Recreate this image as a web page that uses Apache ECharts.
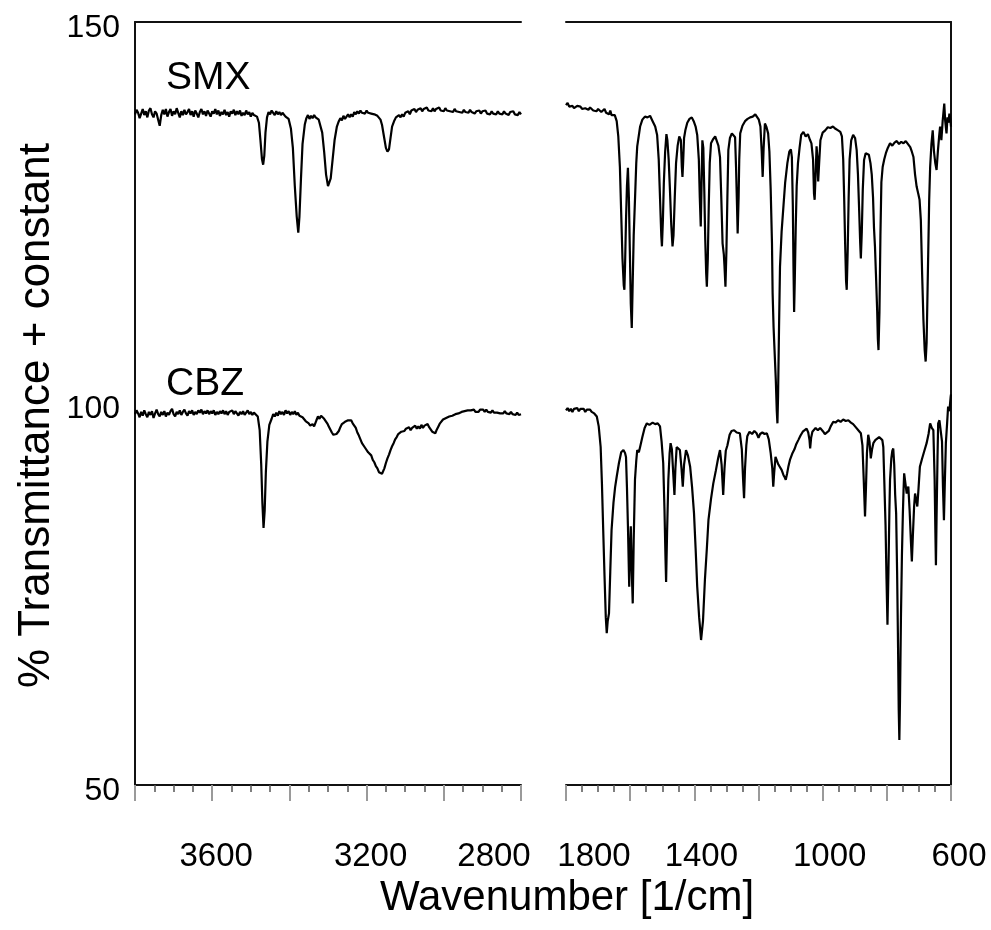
<!DOCTYPE html>
<html><head><meta charset="utf-8">
<script src="https://cdn.jsdelivr.net/npm/echarts@6/dist/echarts.min.js"></script>
<style>html,body{margin:0;padding:0;background:#fff}#c{width:991px;height:930px}</style>
</head><body><div id="c"></div>
<script>
// ---- data (wavenumber [1/cm], % transmittance + constant) ----
const smxHigh = [[3800,137.9],[3796,138.5],[3792,138.1],[3788,137.4],[3784,138.0],[3780,138.6],[3776,137.8],[3772,138.3],[3768,137.5],[3764,138.4],[3760,138.7],[3756,137.9],[3752,137.5],[3748,138.3],[3744,138.0],[3740,137.2],[3736,136.4],[3732,137.8],[3728,138.5],[3724,137.9],[3720,138.6],[3716,137.6],[3712,138.2],[3708,138.6],[3704,137.7],[3700,138.3],[3696,137.9],[3692,138.7],[3688,138.1],[3684,137.5],[3680,138.3],[3676,137.8],[3672,138.5],[3668,137.9],[3664,138.2],[3660,138.6],[3656,137.8],[3652,138.3],[3648,137.6],[3644,138.4],[3640,138.0],[3636,137.5],[3632,138.2],[3628,138.6],[3624,137.9],[3620,138.3],[3616,137.7],[3612,138.4],[3608,138.0],[3604,137.6],[3600,138.3],[3596,138.0],[3592,138.6],[3588,137.9],[3584,138.4],[3580,137.7],[3576,138.2],[3572,137.9],[3568,138.5],[3564,137.8],[3560,138.2],[3556,137.6],[3552,138.3],[3548,138.0],[3544,138.5],[3540,137.8],[3536,138.3],[3532,137.9],[3528,138.4],[3524,137.7],[3520,138.1],[3516,137.8],[3512,138.4],[3508,137.9],[3504,138.2],[3500,137.6],[3496,138.1],[3492,137.8],[3488,138.0],[3484,137.6],[3479,136.8],[3475,134.5],[3471,132.0],[3468,131.3],[3465,132.5],[3462,135.5],[3458,137.5],[3454,138.2],[3450,137.9],[3446,138.4],[3442,138.1],[3438,137.8],[3434,138.3],[3430,137.9],[3426,138.2],[3422,137.8],[3418,138.1],[3414,137.9],[3410,137.6],[3406,137.8],[3402,137.3],[3396,136.0],[3391,133.5],[3386,128.5],[3381,124.5],[3377,122.4],[3374,124.5],[3370,129.5],[3366,134.0],[3360,136.6],[3356,137.4],[3352,137.8],[3348,137.3],[3344,137.7],[3340,137.4],[3336,137.8],[3332,137.5],[3328,137.6],[3324,137.2],[3320,137.0],[3315,135.5],[3310,133.0],[3305,130.0],[3300,128.5],[3297,128.4],[3293,129.5],[3288,132.0],[3283,134.5],[3277,136.3],[3272,137.0],[3268,137.4],[3264,137.1],[3260,137.7],[3256,137.3],[3252,137.6],[3248,137.9],[3244,137.5],[3240,137.9],[3236,137.6],[3232,138.2],[3228,137.9],[3224,138.3],[3220,138.0],[3216,138.4],[3212,138.1],[3208,138.3],[3204,138.0],[3200,138.4],[3196,138.1],[3192,138.3],[3188,138.0],[3184,138.2],[3180,137.9],[3176,138.0],[3172,137.7],[3168,137.6],[3164,137.2],[3160,136.5],[3155,135.0],[3150,133.5],[3146,133.0],[3142,133.3],[3138,134.8],[3134,136.3],[3128,137.1],[3124,137.5],[3120,137.3],[3116,137.8],[3112,137.5],[3108,137.9],[3104,137.6],[3100,138.1],[3096,137.9],[3092,138.3],[3088,137.9],[3084,138.4],[3080,138.2],[3076,138.6],[3072,138.2],[3068,138.5],[3064,138.3],[3060,138.7],[3056,138.3],[3052,138.6],[3048,138.4],[3044,138.8],[3040,138.4],[3036,138.6],[3032,138.3],[3028,138.7],[3024,138.3],[3020,138.6],[3016,138.4],[3012,138.8],[3008,138.4],[3004,138.6],[3000,138.3],[2996,138.7],[2992,138.4],[2988,138.6],[2984,138.3],[2980,138.5],[2976,138.2],[2972,138.6],[2968,138.3],[2964,138.5],[2960,138.2],[2956,138.4],[2952,138.1],[2948,138.5],[2944,138.2],[2940,138.4],[2936,138.1],[2932,138.5],[2928,138.2],[2924,138.4],[2920,138.0],[2916,138.3],[2912,138.1],[2908,138.4],[2904,138.0],[2900,138.3],[2896,138.1],[2892,138.4],[2888,138.0],[2884,138.2],[2880,137.9],[2876,138.3],[2872,138.0],[2868,138.2],[2864,137.9],[2860,138.3],[2856,138.0],[2852,138.2],[2848,137.9],[2844,138.3],[2840,138.0],[2836,138.2],[2832,137.8],[2828,138.2],[2824,138.0],[2820,138.3],[2816,137.9],[2812,138.1],[2808,137.8],[2804,138.2],[2800,137.9]];

const smxLow = [[1800,139.1],[1795,139.4],[1790,138.9],[1785,139.1],[1780,139.0],[1775,138.7],[1770,138.9],[1765,139.0],[1760,138.8],[1755,138.9],[1750,138.6],[1745,138.8],[1740,138.7],[1735,138.9],[1730,138.5],[1725,138.8],[1720,138.6],[1715,138.4],[1710,138.6],[1705,138.3],[1700,138.6],[1695,138.5],[1690,138.2],[1685,138.4],[1680,138.6],[1675,138.1],[1670,138.3],[1666,137.9],[1662,138.4],[1658,137.8],[1655,138.0],[1648,137.8],[1642,137.0],[1637,135.0],[1632,131.0],[1628,125.0],[1624,119.0],[1620,115.5],[1618,114.9],[1616,118.0],[1613,124.0],[1610,128.5],[1607,130.9],[1604,127.0],[1601,120.0],[1598,113.0],[1595,109.9],[1592,116.0],[1589,122.0],[1585,126.7],[1581,131.5],[1578,133.7],[1574,133.5],[1569,136.3],[1562,137.2],[1554,137.6],[1546,137.5],[1538,137.7],[1530,137.0],[1522,136.3],[1516,135.2],[1511,132.0],[1507,127.0],[1503,122.0],[1501,120.6],[1498,124.0],[1495,129.0],[1491,133.0],[1487,135.3],[1484,134.5],[1480,132.0],[1476,128.0],[1472,123.5],[1468,120.6],[1465,122.0],[1461,127.0],[1457,131.5],[1452,133.8],[1447,135.0],[1442,134.5],[1439,131.0],[1437,129.7],[1435,131.5],[1432,134.8],[1428,135.8],[1422,136.8],[1415,137.3],[1408,137.5],[1402,137.0],[1396,136.3],[1391,135.2],[1386,132.0],[1383,127.0],[1380,123.2],[1378,127.5],[1375,134.5],[1372,133.5],[1369,128.0],[1366,121.5],[1363,117.0],[1361,115.3],[1358,119.0],[1355,126.0],[1352,131.5],[1348,134.1],[1342,134.6],[1335,135.0],[1330,134.8],[1325,133.8],[1320,132.3],[1316,127.0],[1312,121.0],[1308,119.5],[1306,118.0],[1303,115.3],[1300,120.0],[1297,127.0],[1294,133.2],[1289,134.8],[1283,135.4],[1278,135.2],[1273,134.9],[1270,131.0],[1267,126.0],[1265,122.3],[1262,127.0],[1260,132.0],[1257,135.4],[1250,136.4],[1242,137.0],[1234,137.3],[1226,137.5],[1218,137.6],[1210,137.9],[1204,137.8],[1199,137.2],[1194,136.3],[1190,133.0],[1187,129.7],[1184,133.5],[1180,136.7],[1175,136.2],[1170,135.4],[1166,133.0],[1162,128.0],[1158,121.0],[1156,114.5],[1153,110.0],[1150,107.0],[1146,103.0],[1143,99.0],[1141,97.4],[1139,101.0],[1136,110.0],[1133,117.9],[1128,122.5],[1122,126.0],[1117,128.9],[1110,131.5],[1104,133.0],[1099,133.3],[1096,132.3],[1093,126.0],[1091,118.0],[1089,112.0],[1087,116.0],[1084,123.0],[1081,128.5],[1077,131.5],[1072,133.5],[1067,135.2],[1060,135.6],[1053,135.0],[1046,135.3],[1040,134.6],[1035,134.1],[1030,132.0],[1027,127.5],[1025,126.7],[1022,130.0],[1019,133.7],[1016,132.0],[1014,129.1],[1011,131.5],[1007,134.5],[1000,135.5],[992,135.8],[984,136.2],[976,136.1],[968,136.3],[960,136.0],[952,135.8],[945,135.6],[940,135.0],[936,132.0],[933,127.0],[930,121.0],[927,116.0],[925,114.9],[922,120.0],[919,127.0],[916,132.0],[911,134.5],[905,135.2],[899,134.8],[894,133.2],[890,130.0],[886,125.0],[883,121.0],[881,119.0],[878,122.5],[875,128.0],[871,131.9],[866,132.8],[861,133.0],[856,132.6],[851,131.5],[847,130.0],[843,127.0],[840,123.0],[837,120.6],[834,117.0],[830,112.0],[828,108.5],[826,107.0],[823,112.0],[820,122.0],[817,129.0],[813,131.0],[808,132.0],[803,132.8],[797,133.5],[790,134.1],[783,133.8],[776,134.2],[769,134.4],[762,134.0],[755,134.3],[748,134.1],[741,134.4],[734,134.0],[727,133.6],[722,133.0],[717,132.3],[712,130.0],[707,128.4],[702,127.5],[698,126.7],[694,124.0],[690,117.0],[686,111.0],[682,107.0],[679,105.5],[676,108.0],[673,115.0],[670,122.0],[668,126.7],[665,131.0],[661,134.0],[657,135.8],[653,133.0],[649,131.5],[645,130.6],[641,133.0],[637,135.0],[634,136.3],[630,134.5],[626,137.0],[623,138.4],[621,139.3],[618,137.0],[614,135.4],[611,137.5],[608,136.8],[605,138.0],[602,137.2],[600,136.3]];

const cbzHigh = [[3800,98.6],[3796,99.1],[3792,98.7],[3788,98.2],[3784,98.9],[3780,98.4],[3776,99.1],[3772,98.6],[3768,98.2],[3764,98.9],[3760,98.5],[3756,99.0],[3752,98.1],[3748,98.7],[3744,99.2],[3740,98.6],[3736,98.3],[3732,98.9],[3728,98.5],[3724,99.0],[3720,98.3],[3716,98.8],[3712,98.5],[3708,99.0],[3704,99.3],[3700,98.6],[3696,98.3],[3692,98.9],[3688,98.6],[3684,99.1],[3680,98.5],[3676,98.9],[3672,99.2],[3668,98.7],[3664,98.4],[3660,99.0],[3656,98.7],[3652,99.1],[3648,98.5],[3644,98.9],[3640,98.6],[3636,99.1],[3632,98.8],[3628,99.2],[3624,98.6],[3620,99.0],[3616,98.7],[3612,99.1],[3608,98.6],[3604,99.0],[3600,98.7],[3596,99.1],[3592,98.5],[3588,98.9],[3584,98.6],[3580,99.0],[3576,98.7],[3572,99.1],[3568,98.6],[3564,99.0],[3560,98.5],[3556,98.9],[3552,98.7],[3548,99.1],[3544,98.6],[3540,99.0],[3536,98.8],[3532,98.4],[3528,98.9],[3524,98.6],[3520,99.0],[3516,98.5],[3512,98.8],[3508,99.1],[3504,98.6],[3500,98.9],[3496,98.5],[3492,98.8],[3488,98.6],[3482,98.3],[3477,96.5],[3473,92.0],[3470,87.0],[3467,83.7],[3464,86.0],[3461,91.0],[3457,95.0],[3452,97.2],[3446,98.0],[3442,98.6],[3438,98.3],[3434,98.8],[3430,98.4],[3426,99.0],[3422,98.6],[3418,98.9],[3414,98.5],[3410,99.1],[3406,98.7],[3402,99.0],[3398,98.5],[3394,98.9],[3390,98.6],[3386,99.0],[3382,98.5],[3378,98.8],[3374,98.4],[3370,98.6],[3366,98.2],[3362,98.0],[3358,97.7],[3354,97.9],[3350,97.4],[3346,97.1],[3344,97.0],[3340,97.3],[3336,97.0],[3330,97.8],[3326,98.3],[3322,98.0],[3318,98.4],[3314,98.2],[3310,98.0],[3306,97.7],[3302,97.4],[3298,97.0],[3294,96.6],[3290,96.2],[3286,95.9],[3282,95.7],[3278,96.0],[3276,95.8],[3272,96.4],[3268,96.9],[3264,97.3],[3260,97.1],[3256,97.6],[3252,97.4],[3248,97.8],[3244,97.6],[3240,97.8],[3236,97.4],[3232,97.1],[3228,96.8],[3224,96.2],[3220,95.8],[3216,95.3],[3212,94.8],[3208,94.6],[3204,94.2],[3200,94.1],[3196,93.6],[3192,93.5],[3188,93.2],[3184,92.6],[3180,92.3],[3176,91.8],[3172,91.5],[3168,91.0],[3164,90.9],[3160,90.8],[3158,91.0],[3154,91.5],[3150,92.2],[3146,92.8],[3142,93.3],[3138,93.9],[3134,94.4],[3130,94.8],[3126,95.3],[3122,95.6],[3118,96.0],[3114,95.8],[3110,96.3],[3106,96.5],[3102,96.4],[3098,96.7],[3094,96.5],[3090,96.9],[3086,96.5],[3082,96.8],[3078,96.6],[3074,97.1],[3070,96.7],[3066,97.0],[3062,96.7],[3058,97.2],[3054,96.8],[3050,97.1],[3046,96.9],[3042,97.3],[3038,96.9],[3034,96.6],[3030,96.3],[3026,96.2],[3022,96.1],[3018,96.6],[3014,97.0],[3010,97.4],[3006,97.6],[3002,97.9],[2998,97.8],[2994,98.1],[2990,98.0],[2986,98.3],[2982,98.1],[2978,98.4],[2974,98.3],[2970,98.6],[2966,98.4],[2962,98.7],[2958,98.6],[2954,98.9],[2950,98.7],[2946,99.0],[2942,98.8],[2938,99.1],[2934,98.9],[2930,99.1],[2926,98.9],[2922,99.2],[2918,98.9],[2914,99.1],[2910,98.9],[2906,99.2],[2902,99.0],[2898,99.2],[2894,98.9],[2890,99.2],[2886,98.9],[2882,99.1],[2878,98.8],[2874,99.1],[2870,98.8],[2866,99.0],[2862,98.8],[2858,99.0],[2854,98.7],[2850,98.9],[2846,98.7],[2842,99.0],[2838,98.7],[2834,98.9],[2830,98.6],[2826,98.9],[2822,98.6],[2818,98.8],[2814,98.5],[2810,98.8],[2806,98.5],[2800,98.6]];

const cbzLow = [[1800,99.1],[1795,99.4],[1790,99.0],[1785,99.3],[1780,98.9],[1775,99.3],[1770,99.1],[1765,99.4],[1760,99.0],[1755,99.3],[1750,99.1],[1745,99.3],[1740,98.9],[1735,99.2],[1730,99.0],[1725,99.2],[1720,98.9],[1712,98.7],[1704,98.3],[1698,97.0],[1692,94.3],[1688,89.5],[1684,83.4],[1680,77.5],[1676,72.0],[1673,69.9],[1670,71.5],[1666,72.5],[1662,78.0],[1658,83.4],[1652,87.0],[1647,89.0],[1642,90.4],[1635,92.2],[1628,93.6],[1621,93.9],[1616,93.5],[1613,93.0],[1610,89.0],[1607,84.0],[1605,80.0],[1603,76.0],[1601,80.0],[1598,83.9],[1595,78.0],[1592,73.8],[1589,82.0],[1585,90.0],[1581,92.5],[1578,93.9],[1573,93.6],[1569,94.3],[1562,95.6],[1555,96.8],[1548,97.4],[1540,97.2],[1530,97.5],[1522,97.3],[1514,97.4],[1507,97.0],[1502,95.0],[1497,92.2],[1493,86.0],[1490,80.0],[1488,76.6],[1485,83.0],[1481,90.0],[1477,93.5],[1474,94.8],[1470,94.0],[1466,91.0],[1462,88.0],[1459,91.5],[1455,94.3],[1450,94.4],[1445,93.9],[1440,91.5],[1436,89.1],[1432,92.0],[1426,93.9],[1420,93.2],[1413,91.7],[1407,89.0],[1401,85.6],[1396,81.0],[1391,76.0],[1385,72.0],[1379,69.0],[1373,71.5],[1367,76.9],[1361,81.0],[1356,84.7],[1348,87.5],[1341,89.5],[1333,91.2],[1326,92.8],[1320,93.9],[1315,92.0],[1310,88.0],[1306,91.5],[1302,93.8],[1297,94.5],[1290,95.9],[1284,96.4],[1276,96.5],[1268,96.2],[1258,96.1],[1252,94.0],[1248,90.0],[1245,87.6],[1242,91.5],[1238,94.5],[1235,95.7],[1228,96.3],[1220,96.0],[1213,96.4],[1206,96.1],[1200,95.5],[1195,96.0],[1188,96.2],[1181,96.0],[1174,96.1],[1168,95.3],[1162,93.5],[1157,91.5],[1154,89.1],[1151,91.0],[1147,93.0],[1143,92.8],[1138,92.0],[1133,91.8],[1128,91.3],[1122,90.6],[1118,90.3],[1115,90.0],[1111,90.8],[1107,91.7],[1102,92.6],[1095,93.4],[1088,94.0],[1082,94.7],[1076,95.2],[1069,95.8],[1062,96.3],[1056,96.5],[1050,96.7],[1045,96.2],[1041,95.2],[1039,94.1],[1036,95.5],[1032,96.3],[1029,96.5],[1022,96.8],[1015,96.5],[1008,96.8],[1000,96.4],[993,96.0],[987,95.9],[981,96.4],[975,97.0],[967,97.6],[960,97.5],[952,97.8],[944,97.6],[936,97.9],[928,97.7],[920,97.8],[912,97.5],[905,97.3],[899,97.0],[893,96.8],[887,96.4],[881,96.1],[876,94.5],[872,90.0],[868,85.2],[865,89.0],[862,93.5],[858,95.9],[854,95.0],[850,92.8],[846,94.0],[842,94.8],[836,95.2],[830,95.4],[824,95.6],[819,95.7],[814,95.2],[811,94.3],[808,90.0],[804,84.0],[801,77.0],[798,71.0],[795,78.0],[792,86.0],[790,90.0],[786,92.8],[783,93.8],[780,94.1],[777,92.0],[774,88.0],[771,85.6],[768,78.0],[765,68.0],[763,60.0],[761,55.9],[759,61.0],[756,72.0],[753,80.0],[750,85.6],[748,88.5],[746,90.85],[742,89.5],[738,88.2],[735,88.8],[733,89.1],[729,86.0],[725,82.0],[722,79.3],[719,82.5],[715,86.5],[712,88.2],[709,87.5],[705,86.5],[701,89.0],[697,91.7],[690,92.8],[683,93.8],[676,94.8],[670,96.0],[665,97.4],[660,96.8],[655,96.5],[651,90.0],[649,84.0],[647,78.8],[645,85.0],[642,93.0],[640,97.4],[636,97.8],[632,98.0],[628,95.0],[625,89.0],[622,84.7],[619,90.0],[616,94.8],[612,97.5],[609,99.6],[605,99.0],[601,100.9],[600,101.2]];

const leftTickLabels = ['3600', '3200', '2800'];
const rightTickLabels = ['1800', '1400', '1000', '600'];
const yTickLabels = ['50', '100', '150'];
const sampleNames = ['SMX', 'CBZ'];
const xTitle = 'Wavenumber [1/cm]';
const yTitle = '% Transmittance + constant';

// ---- styling ----
const FONT = '"Liberation Sans", Arial, Helvetica, sans-serif';
const labelShift = {'3600': 4, '3200': 4, '2800': -27, '1800': 28, '1400': 7, '1000': 7, '600': 8};
const TICK_FS = 33;
const rich = {};
Object.keys(labelShift).forEach(k => {
  const s = labelShift[k];
  rich['k' + k] = {
    fontSize: TICK_FS, fontFamily: FONT, color: '#000',
    padding: s >= 0 ? [0, 0, 0, 2 * s] : [0, -2 * s, 0, 0]
  };
});
function xFormatter(labels) {
  return function (v) {
    const s = String(v);
    return labels.indexOf(s) < 0 ? '' : '{k' + s + '|' + s + '}';
  };
}
const axisLineStyle = {color: '#111', width: 2};
function bottomAxis(grid, min, max, labels) {
  return {
    type: 'value', gridIndex: grid, position: 'bottom', min: min, max: max, interval: 200, inverse: true,
    axisLine: {show: true, onZero: false, lineStyle: axisLineStyle},
    axisTick: {show: true, length: 16, lineStyle: {color: '#9a9a9a', width: 2}},
    minorTick: {show: true, splitNumber: 4, length: 7, lineStyle: {color: '#555', width: 1.5}},
    splitLine: {show: false}, minorSplitLine: {show: false},
    axisLabel: {show: true, margin: 55, fontSize: TICK_FS, fontFamily: FONT, color: '#000',
      formatter: xFormatter(labels), rich: rich}
  };
}
function topAxis(grid, min, max) {
  return {
    type: 'value', gridIndex: grid, position: 'top', min: min, max: max, inverse: true,
    axisLine: {show: true, onZero: false, lineStyle: axisLineStyle},
    axisTick: {show: false}, axisLabel: {show: false}, splitLine: {show: false}
  };
}
const lineSeries = (data, idx) => ({
  type: 'line', data: data, xAxisIndex: idx, yAxisIndex: idx,
  showSymbol: false, symbol: 'none', clip: false,
  lineStyle: {color: '#000', width: 2.2}, animation: false
});

const chart = echarts.init(document.getElementById('c'), null, {renderer: 'canvas'});
chart.setOption({
  animation: false,
  backgroundColor: '#fff',
  grid: [
    {left: 135, top: 22, width: 386, height: 763, outerBoundsMode: 'none', containLabel: false},
    {left: 566, top: 22, width: 385, height: 763, outerBoundsMode: 'none', containLabel: false}
  ],
  xAxis: [
    bottomAxis(0, 2800, 3800, leftTickLabels),
    bottomAxis(1, 600, 1800, rightTickLabels),
    topAxis(0, 2800, 3800),
    topAxis(1, 600, 1800)
  ],
  yAxis: [
    {
      type: 'value', gridIndex: 0, min: 50, max: 150, interval: 50,
      axisLine: {show: true, onZero: false, lineStyle: axisLineStyle},
      axisTick: {show: false}, splitLine: {show: false},
      axisLabel: {margin: 15, fontSize: 32, fontFamily: FONT, color: '#000',
        formatter: v => (yTickLabels.indexOf(String(v)) >= 0 ? '{y|' + v + '}' : ''),
        rich: {y: {fontSize: 32, fontFamily: FONT, color: '#000', padding: [12, 0, 0, 0]}}},
      name: yTitle, nameLocation: 'middle', nameGap: 76, nameRotate: 90,
      nameTextStyle: {fontSize: 44, fontFamily: FONT, color: '#000', padding: [0, 24, 0, 0]}
    },
    {
      type: 'value', gridIndex: 1, position: 'right', min: 50, max: 150,
      axisLine: {show: true, onZero: false, lineStyle: axisLineStyle},
      axisTick: {show: false}, axisLabel: {show: false}, splitLine: {show: false}
    }
  ],
  series: [
    lineSeries(smxHigh, 0), lineSeries(cbzHigh, 0),
    lineSeries(smxLow, 1), lineSeries(cbzLow, 1)
  ],
  graphic: [
    {type: 'text', left: 166, top: 59, style: {text: sampleNames[0], fontSize: 39, fontFamily: FONT, fill: '#000'}},
    {type: 'text', left: 166, top: 365, style: {text: sampleNames[1], fontSize: 39, fontFamily: FONT, fill: '#000'}},
    {type: 'text', x: 567, y: 877, style: {text: xTitle, fontSize: 42, fontFamily: FONT, fill: '#000', align: 'center', verticalAlign: 'top'}}
  ]
});
</script></body></html>
